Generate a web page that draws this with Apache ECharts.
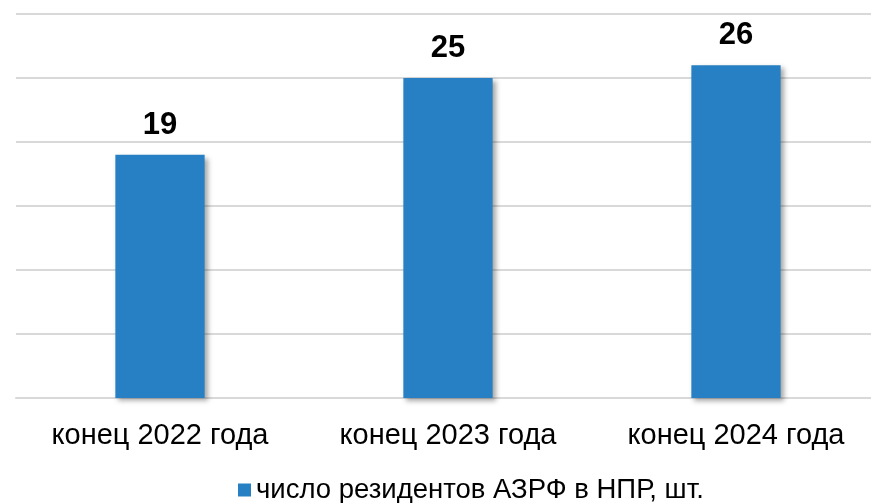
<!DOCTYPE html>
<html>
<head>
<meta charset="utf-8">
<script src="https://cdn.jsdelivr.net/npm/echarts@6/dist/echarts.min.js"></script>
<style>
html,body{margin:0;padding:0;background:#fff;overflow:hidden;width:871px;height:503px;}
#c{width:880px;height:503px;}
</style>
</head>
<body>
<div id="c"></div>
<script>
const categories = ['конец 2022 года', 'конец 2023 года', 'конец 2024 года'];
const residents = [19, 25, 26];
const seriesName = 'число резидентов АЗРФ в НПР, шт.';

const chart = echarts.init(document.getElementById('c'));
chart.setOption({
  animation: false,
  backgroundColor: '#ffffff',
  grid: { left: 16, width: 864, top: 14, height: 384, containLabel: false },
  legend: {
    data: [seriesName],
    top: 471,
    left: 233,
    itemWidth: 13,
    itemHeight: 13,
    itemGap: 6,
    icon: 'rect',
    textStyle: { fontFamily: 'Liberation Sans, Arial, sans-serif', fontSize: 27.5, color: '#000' }
  },
  xAxis: {
    type: 'category',
    data: categories,
    axisTick: { show: false },
    axisLine: { lineStyle: { color: '#d9d9d9', width: 2 } },
    axisLabel: { margin: 23, fontFamily: 'Liberation Sans, Arial, sans-serif', fontSize: 29, color: '#000' }
  },
  yAxis: {
    type: 'value',
    min: 0,
    max: 30,
    interval: 5,
    axisLabel: { show: false },
    axisLine: { show: false },
    axisTick: { show: false },
    splitLine: { lineStyle: { color: '#d9d9d9', width: 2 } }
  },
  series: [{
    name: seriesName,
    type: 'bar',
    data: residents,
    barWidth: '31%',
    itemStyle: {
      color: '#2680c3',
      shadowColor: 'rgba(0,0,0,0.35)',
      shadowBlur: 5,
      shadowOffsetX: 3,
      shadowOffsetY: 3
    },
    label: {
      show: true,
      position: 'top',
      distance: 14,
      fontFamily: 'Liberation Sans, Arial, sans-serif',
      fontWeight: 'bold',
      fontSize: 31,
      color: '#000'
    }
  }]
});
</script>
</body>
</html>
